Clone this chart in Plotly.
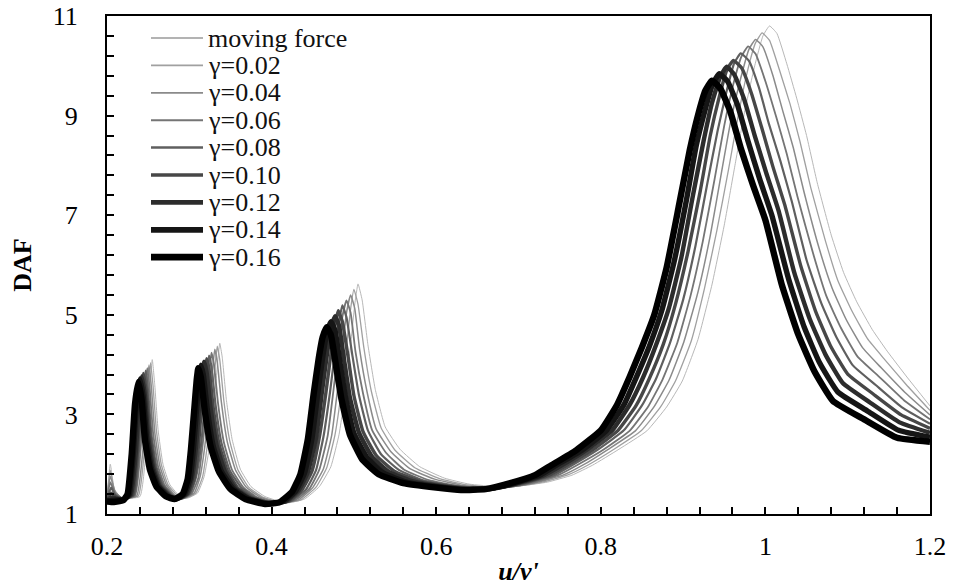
import plotly.graph_objects as go

# ---------------- data ----------------
series_names = ["moving force", "γ=0.02", "γ=0.04", "γ=0.06", "γ=0.08",
                "γ=0.10", "γ=0.12", "γ=0.14", "γ=0.16"]

x_mf = [0.200,0.204,0.209,0.218,0.240,0.248,0.252,0.255,0.258,0.262,0.268,0.276,0.287,0.298,0.310,0.318,0.325,0.331,0.335,0.337,0.340,0.345,0.352,0.362,0.375,0.392,0.418,0.440,0.458,0.472,0.482,0.490,0.496,0.501,0.505,0.510,0.517,0.526,0.538,0.556,0.580,0.610,0.640,0.675,0.705,0.735,0.765,0.790,0.822,0.856,0.880,0.899,0.918,0.935,0.950,0.963,0.975,0.987,0.997,1.005,1.014,1.026,1.038,1.050,1.063,1.080,1.095,1.111,1.130,1.148,1.172,1.200]
y_mf = [1.35,2.00,1.50,1.32,1.35,2.40,3.50,4.10,3.60,2.70,2.00,1.60,1.38,1.32,1.42,1.75,2.40,3.40,4.15,4.43,4.15,3.30,2.50,1.90,1.55,1.35,1.22,1.30,1.55,1.95,2.60,3.50,4.40,5.20,5.62,5.30,4.40,3.50,2.75,2.30,1.95,1.72,1.60,1.55,1.57,1.64,1.78,1.98,2.30,2.67,3.15,3.67,4.50,5.60,6.80,8.00,9.10,10.00,10.60,10.80,10.65,10.04,9.35,8.60,7.65,6.60,5.85,5.26,4.70,4.27,3.75,3.17]

x_g002 = [0.200,0.204,0.209,0.218,0.238,0.246,0.250,0.253,0.256,0.260,0.266,0.274,0.285,0.296,0.308,0.316,0.322,0.328,0.332,0.334,0.337,0.342,0.349,0.359,0.372,0.389,0.415,0.436,0.454,0.467,0.477,0.485,0.491,0.496,0.500,0.505,0.512,0.521,0.533,0.550,0.574,0.604,0.635,0.669,0.699,0.729,0.759,0.784,0.816,0.849,0.873,0.891,0.910,0.926,0.941,0.955,0.967,0.978,0.988,0.996,1.005,1.017,1.030,1.042,1.055,1.073,1.088,1.105,1.124,1.145,1.171,1.200]
y_g002 = [1.34,1.88,1.47,1.32,1.36,2.38,3.46,4.04,3.56,2.68,1.99,1.59,1.38,1.32,1.42,1.74,2.39,3.36,4.09,4.37,4.10,3.27,2.48,1.89,1.54,1.34,1.22,1.29,1.54,1.93,2.59,3.49,4.36,5.12,5.51,5.21,4.35,3.48,2.73,2.28,1.93,1.71,1.59,1.54,1.56,1.64,1.78,1.98,2.30,2.67,3.16,3.68,4.48,5.53,6.69,7.90,9.00,9.88,10.46,10.66,10.51,9.92,9.23,8.48,7.56,6.48,5.69,5.08,4.52,4.10,3.60,3.08]

x_g004 = [0.200,0.204,0.210,0.219,0.236,0.244,0.248,0.251,0.254,0.258,0.264,0.272,0.283,0.294,0.306,0.313,0.319,0.325,0.329,0.331,0.334,0.339,0.346,0.356,0.369,0.386,0.411,0.433,0.450,0.463,0.473,0.480,0.486,0.491,0.496,0.501,0.507,0.516,0.527,0.545,0.568,0.598,0.630,0.664,0.694,0.724,0.754,0.778,0.809,0.842,0.865,0.883,0.901,0.918,0.933,0.946,0.958,0.970,0.980,0.988,0.997,1.009,1.021,1.034,1.047,1.065,1.081,1.098,1.118,1.141,1.169,1.200]
y_g004 = [1.33,1.76,1.44,1.31,1.36,2.35,3.43,3.99,3.53,2.65,1.98,1.59,1.37,1.32,1.42,1.74,2.38,3.33,4.04,4.31,4.05,3.24,2.46,1.89,1.54,1.34,1.22,1.29,1.53,1.91,2.58,3.48,4.33,5.04,5.40,5.13,4.30,3.45,2.71,2.25,1.91,1.70,1.58,1.53,1.55,1.64,1.78,1.98,2.30,2.67,3.16,3.69,4.46,5.45,6.59,7.80,8.90,9.75,10.33,10.53,10.38,9.81,9.10,8.35,7.46,6.35,5.54,4.91,4.34,3.93,3.45,2.99]

x_g006 = [0.200,0.204,0.210,0.219,0.234,0.241,0.245,0.249,0.252,0.256,0.262,0.270,0.281,0.292,0.303,0.311,0.316,0.322,0.325,0.327,0.330,0.335,0.342,0.352,0.366,0.383,0.408,0.429,0.446,0.458,0.468,0.475,0.481,0.486,0.491,0.496,0.502,0.511,0.522,0.539,0.561,0.591,0.625,0.658,0.688,0.718,0.748,0.771,0.803,0.835,0.858,0.875,0.893,0.909,0.924,0.938,0.950,0.961,0.971,0.979,0.988,1.000,1.013,1.026,1.039,1.058,1.074,1.092,1.112,1.138,1.168,1.200]
y_g006 = [1.31,1.64,1.41,1.31,1.37,2.33,3.39,3.93,3.49,2.63,1.96,1.58,1.37,1.31,1.41,1.73,2.36,3.29,3.98,4.24,4.00,3.21,2.44,1.88,1.53,1.33,1.21,1.28,1.51,1.89,2.56,3.46,4.29,4.96,5.29,5.04,4.25,3.43,2.69,2.23,1.89,1.68,1.57,1.52,1.54,1.63,1.78,1.98,2.29,2.67,3.17,3.70,4.44,5.38,6.48,7.70,8.80,9.63,10.19,10.39,10.24,9.69,8.98,8.23,7.37,6.23,5.38,4.73,4.16,3.76,3.29,2.90]

x_g008 = [0.200,0.205,0.210,0.219,0.233,0.239,0.243,0.247,0.250,0.254,0.260,0.268,0.280,0.290,0.301,0.308,0.314,0.319,0.322,0.324,0.327,0.332,0.339,0.349,0.363,0.380,0.405,0.425,0.442,0.454,0.463,0.471,0.477,0.482,0.486,0.491,0.498,0.506,0.517,0.533,0.555,0.585,0.620,0.653,0.683,0.713,0.743,0.765,0.796,0.828,0.850,0.867,0.884,0.900,0.915,0.929,0.942,0.953,0.962,0.970,0.980,0.992,1.004,1.018,1.032,1.050,1.068,1.086,1.106,1.134,1.166,1.200]
y_g008 = [1.30,1.53,1.38,1.30,1.38,2.30,3.35,3.88,3.45,2.60,1.95,1.58,1.37,1.31,1.41,1.73,2.35,3.25,3.93,4.18,3.95,3.18,2.43,1.88,1.53,1.33,1.21,1.27,1.50,1.88,2.55,3.45,4.25,4.88,5.19,4.95,4.20,3.40,2.68,2.20,1.88,1.67,1.57,1.52,1.54,1.63,1.78,1.98,2.29,2.68,3.18,3.71,4.43,5.30,6.38,7.60,8.70,9.50,10.05,10.25,10.10,9.57,8.85,8.10,7.28,6.10,5.23,4.56,3.99,3.59,3.14,2.81]

x_g010 = [0.200,0.205,0.211,0.219,0.231,0.237,0.241,0.244,0.248,0.252,0.258,0.266,0.278,0.288,0.299,0.306,0.311,0.315,0.319,0.321,0.324,0.329,0.336,0.346,0.359,0.377,0.402,0.421,0.437,0.449,0.458,0.466,0.472,0.477,0.481,0.486,0.493,0.500,0.511,0.527,0.549,0.579,0.615,0.647,0.677,0.707,0.737,0.759,0.790,0.821,0.843,0.859,0.876,0.891,0.906,0.921,0.933,0.944,0.953,0.961,0.971,0.983,0.996,1.009,1.024,1.043,1.061,1.079,1.100,1.131,1.165,1.200]
y_g010 = [1.29,1.42,1.34,1.30,1.38,2.28,3.31,3.82,3.41,2.58,1.94,1.57,1.36,1.31,1.41,1.72,2.34,3.21,3.87,4.12,3.90,3.14,2.41,1.87,1.52,1.32,1.21,1.26,1.49,1.86,2.54,3.44,4.21,4.79,5.08,4.86,4.15,3.38,2.66,2.18,1.86,1.66,1.56,1.51,1.53,1.63,1.78,1.98,2.29,2.68,3.18,3.72,4.41,5.23,6.27,7.50,8.60,9.38,9.91,10.11,9.96,9.45,8.73,7.98,7.18,5.98,5.07,4.38,3.81,3.41,2.99,2.72]

x_g012 = [0.200,0.205,0.211,0.220,0.229,0.235,0.239,0.242,0.246,0.250,0.256,0.264,0.276,0.286,0.297,0.303,0.308,0.312,0.316,0.318,0.321,0.326,0.333,0.343,0.356,0.374,0.398,0.418,0.433,0.444,0.454,0.461,0.467,0.472,0.477,0.482,0.488,0.495,0.506,0.522,0.543,0.573,0.610,0.641,0.671,0.701,0.731,0.753,0.783,0.814,0.835,0.851,0.867,0.883,0.898,0.912,0.925,0.935,0.945,0.953,0.962,0.974,0.987,1.001,1.016,1.035,1.054,1.073,1.094,1.127,1.163,1.200]
y_g012 = [1.28,1.33,1.31,1.29,1.39,2.25,3.28,3.76,3.38,2.55,1.93,1.56,1.36,1.31,1.41,1.71,2.33,3.18,3.81,4.06,3.85,3.11,2.39,1.86,1.51,1.31,1.21,1.26,1.48,1.84,2.53,3.43,4.18,4.71,4.97,4.78,4.10,3.35,2.64,2.15,1.84,1.65,1.55,1.50,1.52,1.63,1.78,1.98,2.29,2.68,3.19,3.73,4.39,5.15,6.16,7.40,8.50,9.25,9.78,9.98,9.83,9.34,8.60,7.85,7.09,5.85,4.91,4.20,3.63,3.24,2.84,2.63]

x_g014 = [0.200,0.205,0.212,0.220,0.227,0.232,0.236,0.240,0.244,0.248,0.254,0.262,0.274,0.284,0.294,0.301,0.305,0.309,0.312,0.314,0.317,0.322,0.329,0.339,0.353,0.371,0.395,0.414,0.429,0.440,0.449,0.456,0.462,0.467,0.472,0.477,0.483,0.490,0.500,0.516,0.536,0.566,0.605,0.636,0.666,0.696,0.726,0.746,0.777,0.807,0.828,0.843,0.859,0.874,0.889,0.904,0.916,0.927,0.936,0.944,0.954,0.966,0.979,0.993,1.008,1.028,1.047,1.066,1.088,1.124,1.162,1.200]
y_g014 = [1.26,1.27,1.28,1.29,1.39,2.23,3.24,3.71,3.34,2.53,1.91,1.56,1.35,1.30,1.40,1.71,2.31,3.14,3.76,3.99,3.80,3.08,2.37,1.86,1.51,1.31,1.20,1.25,1.46,1.82,2.51,3.41,4.14,4.63,4.86,4.69,4.05,3.33,2.62,2.13,1.82,1.63,1.54,1.49,1.51,1.62,1.78,1.98,2.28,2.68,3.19,3.74,4.37,5.08,6.06,7.30,8.40,9.13,9.64,9.84,9.69,9.22,8.48,7.73,6.99,5.73,4.76,4.03,3.45,3.07,2.68,2.54]

x_g016 = [0.200,0.205,0.212,0.220,0.225,0.230,0.234,0.238,0.242,0.246,0.252,0.260,0.272,0.282,0.292,0.298,0.302,0.306,0.309,0.311,0.314,0.319,0.326,0.336,0.350,0.368,0.392,0.410,0.425,0.435,0.444,0.451,0.457,0.462,0.467,0.472,0.478,0.485,0.495,0.510,0.530,0.560,0.600,0.630,0.660,0.690,0.720,0.740,0.770,0.800,0.820,0.835,0.850,0.865,0.880,0.895,0.908,0.918,0.927,0.935,0.945,0.957,0.970,0.985,1.000,1.020,1.040,1.060,1.082,1.120,1.160,1.200]
y_g016 = [1.25,1.24,1.25,1.28,1.40,2.20,3.20,3.65,3.30,2.50,1.90,1.55,1.35,1.30,1.40,1.70,2.30,3.10,3.70,3.93,3.75,3.05,2.35,1.85,1.50,1.30,1.20,1.24,1.45,1.80,2.50,3.40,4.10,4.55,4.75,4.60,4.00,3.30,2.60,2.10,1.80,1.62,1.53,1.48,1.50,1.62,1.78,1.98,2.28,2.68,3.20,3.75,4.35,5.00,5.95,7.20,8.30,9.00,9.50,9.70,9.55,9.10,8.35,7.60,6.90,5.60,4.60,3.85,3.27,2.90,2.53,2.45]

x_series = [x_mf, x_g002, x_g004, x_g006, x_g008, x_g010, x_g012, x_g014, x_g016]
y_series = [y_mf, y_g002, y_g004, y_g006, y_g008, y_g010, y_g012, y_g014, y_g016]

x_tick_vals = [0.2, 0.4, 0.6, 0.8, 1.0, 1.2]
x_tick_text = ["0.2", "0.4", "0.6", "0.8", "1", "1.2"]
y_tick_vals = [1, 3, 5, 7, 9, 11]

# ---------------- styles ----------------
colors = ["#b8b8b8", "#a0a0a0", "#8a8a8a", "#757575", "#5f5f5f",
          "#474747", "#2c2c2c", "#151515", "#000000"]
widths = [1.0, 1.3, 1.5, 1.8, 2.2, 3.4, 4.4, 5.4, 6.4]
FONT = "Liberation Serif"

for xs, ys in zip(x_series, y_series):
    assert len(xs) == len(ys), (len(xs), len(ys))

fig = go.Figure()
for name, xs, ys, c, w in zip(series_names, x_series, y_series, colors, widths):
    fig.add_trace(go.Scatter(x=xs, y=ys, mode="lines", name=name,
                             line=dict(color=c, width=w, shape="spline", smoothing=0.4),
                             showlegend=False))

# legend drawn inside the plot area (Excel style, tight rows)
L, R, T, B = 107, 930, 16, 514
W, H = R - L, B - T
def px_x(p):
    return (p - L) / W
def px_y(p):
    return (B - p) / H

row0, row_step = 38, 27.4
for i, (name, c, w) in enumerate(zip(series_names, colors, widths)):
    yc = row0 + i * row_step
    fig.add_shape(type="line", xref="paper", yref="paper",
                  x0=px_x(151), x1=px_x(203), y0=px_y(yc), y1=px_y(yc),
                  line=dict(color=c if i > 0 else "#9a9a9a", width=min(w + 0.3, 7)))
    fig.add_annotation(xref="paper", yref="paper", x=px_x(206), y=px_y(yc),
                       text=name, showarrow=False, xanchor="left", yanchor="middle",
                       font=dict(family=FONT, size=26, color="#111111"))

axis_common = dict(showline=True, linecolor="black", linewidth=2, mirror=True,
                   ticks="inside", ticklen=7, tickwidth=1.5, tickcolor="black",
                   showgrid=False, zeroline=False, ticklabeloverflow="allow",
                   tickfont=dict(family=FONT, size=26, color="black"))

fig.update_xaxes(range=[0.2, 1.2], tickvals=x_tick_vals, ticktext=x_tick_text,
                 minor=dict(ticks="inside", dtick=0.04, tick0=0.2, ticklen=7,
                            tickwidth=1.5, tickcolor="black"),
                 ticklabelstandoff=8,
                 title=dict(text="<b><i>u/v'</i></b>", font=dict(family=FONT, size=26, color="black"),
                            standoff=2),
                 **axis_common)
fig.update_yaxes(range=[1, 11], tickvals=y_tick_vals,
                 minor=dict(ticks="inside", dtick=0.4, tick0=1, ticklen=7,
                            tickwidth=1.5, tickcolor="black"),
                 ticklabelstandoff=22,
                 title=dict(text="<b>DAF</b>", font=dict(family=FONT, size=26, color="black"),
                            standoff=14),
                 **axis_common)

fig.update_layout(width=954, height=587,
                  margin=dict(l=L, r=954 - R, t=T, b=587 - B, autoexpand=False),
                  plot_bgcolor="white", paper_bgcolor="white",
                  showlegend=False)

fig.write_html("out.html")
